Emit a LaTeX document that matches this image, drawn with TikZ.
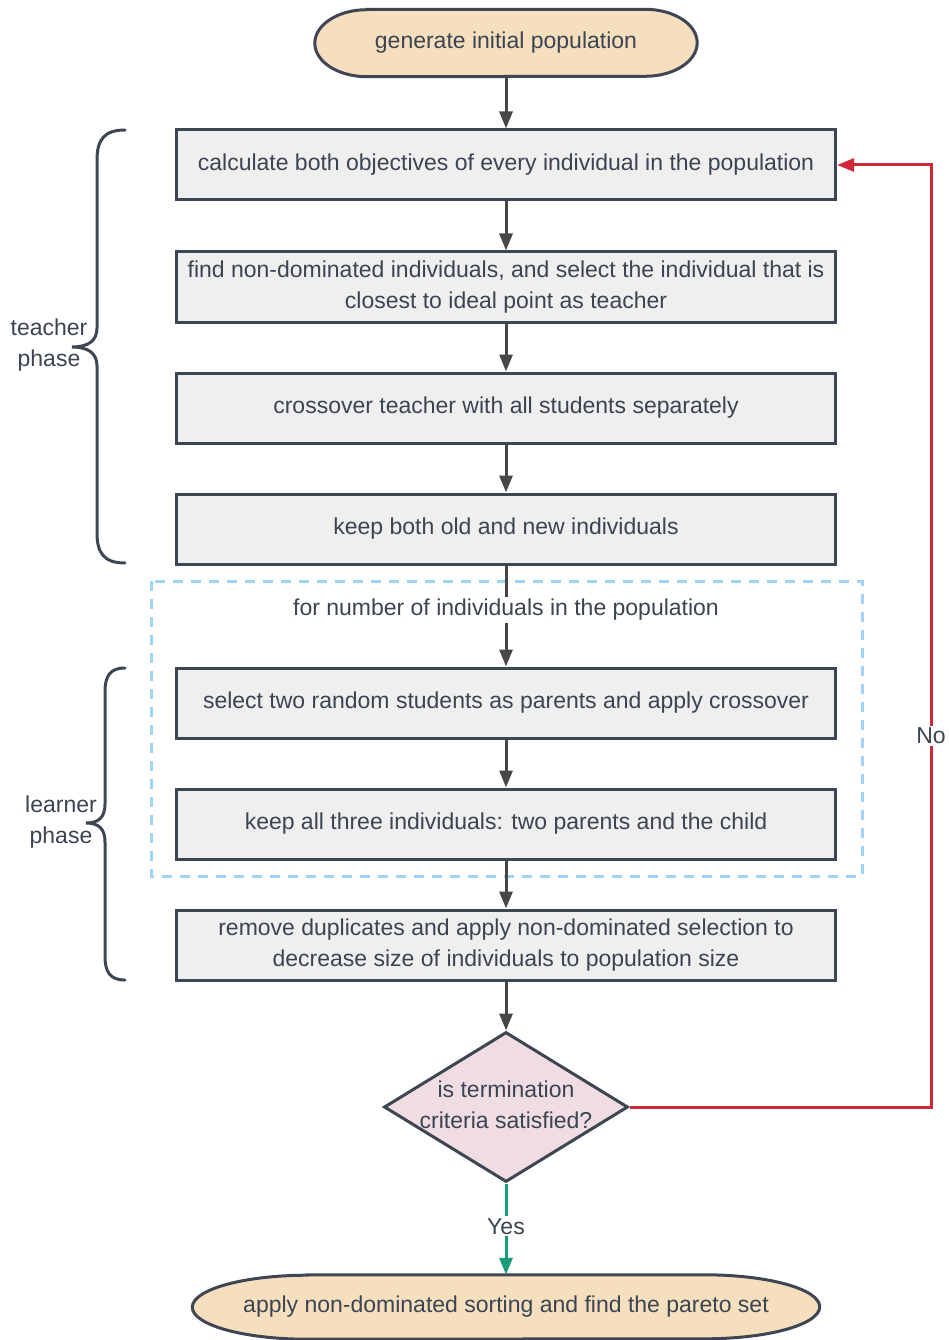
\documentclass[tikz,border=0pt]{standalone}
\usepackage{fontspec}
\setmainfont{Liberation Sans}
\usetikzlibrary{arrows.meta,shapes.geometric,calc,backgrounds}
\definecolor{txt}{HTML}{3B4450}
\definecolor{bord}{HTML}{3D4652}
\definecolor{boxfill}{HTML}{EFEFEF}
\definecolor{peach}{HTML}{F5DFBE}
\definecolor{pinkfill}{HTML}{EFDDE3}
\definecolor{dashblue}{HTML}{A0D4F5}
\definecolor{arrgrey}{HTML}{474747}
\definecolor{noRed}{HTML}{CF2A3A}
\definecolor{yesGreen}{HTML}{1B9A7C}
\tikzset{
  every node/.style={font=\fontsize{23}{31}\selectfont, text=txt},
  stepbox/.style={draw=bord, fill=boxfill, line width=3pt, minimum width=659pt, minimum height=70pt, inner sep=0pt, align=center},
  term/.style={rectangle, inner sep=0pt, align=center},
  termline/.style={draw=bord, fill=peach, line width=3pt},
  decide/.style={draw=bord, fill=pinkfill, line width=3pt, diamond, minimum width=244pt, minimum height=150pt, inner sep=0pt},
  flow/.style={draw=arrgrey, line width=3pt, -{Triangle[length=17pt,width=13pt]}},
  lbl/.style={fill=white, inner sep=2pt},
  bracestyle/.style={draw=bord, line width=3pt, line cap=round},
}
\newcommand{\termoutline}[3]{% node name, x radius, y radius
  \draw[termline] ($(#1.north west)+(#2,0)$) -- ($(#1.north east)+(-#2,0)$)
    arc[start angle=-90,end angle=90,x radius=#2,y radius=#3]
    -- ($(#1.south west)+(#2,0)$)
    arc[start angle=90,end angle=270,x radius=#2,y radius=#3] -- cycle;}
\begin{document}
\begin{tikzpicture}[x=1pt,y=-1pt]
\useasboundingbox (0,0) rectangle (948,1340);
% dashed loop frame
\draw[dashblue, line width=3pt, dash pattern=on 10pt off 8pt] (151,581) rectangle (862,876);

\node[term, minimum width=382pt, minimum height=67pt] (start) at (506,43) {generate initial population};
\node[stepbox] (b1) at (506,165) {calculate both objectives of every individual in the population};
\node[stepbox] (b2) at (506,287) {find non-dominated individuals, and select the individual that is\\closest to ideal point as teacher};
\node[stepbox] (b3) at (506,408) {crossover teacher with all students separately};
\node[stepbox] (b4) at (506,529) {keep both old and new individuals};
\node[stepbox] (b5) at (506,703) {select two random students as parents and apply crossover};
\node[stepbox] (b6) at (506,824) {keep all three individuals: two parents and the child};
\node[stepbox] (b7) at (506,945) {remove duplicates and apply non-dominated selection to\\decrease size of individuals to population size};
\node[decide, label={[align=center, yshift=2pt]center:is termination\\criteria satisfied?}] (dia) at (506,1107) {};
\node[term, minimum width=627pt, minimum height=64pt] (stop) at (506,1307) {apply non-dominated sorting and find the pareto set};

\begin{scope}[on background layer]
\termoutline{start}{52}{33.5}
\termoutline{stop}{115}{32}
\end{scope}

\draw[flow] (start) -- (b1);
\draw[flow] (b1) -- (b2);
\draw[flow] (b2) -- (b3);
\draw[flow] (b3) -- (b4);
\draw[flow] (b4) -- node[lbl, pos=0.44] (loop) {for number of individuals in the population} (b5);
\draw[flow] (b5) -- (b6);
\draw[flow] (b6) -- (b7);
\draw[flow] (b7) -- (dia);
\draw[flow, draw=yesGreen, -{Triangle[length=17pt,width=13pt,fill=yesGreen]}] (dia.south) -- node[lbl, pos=0.47] (yes) {Yes} (stop);

\coordinate (cb) at (931,1107);
\coordinate (ct) at (931,165);
\draw[draw=noRed, line width=3pt, -{Triangle[length=17pt,width=13pt]}] (dia.east) -- (cb) -- node[lbl, pos=0.394] (no) {No} (ct) -- (b1.east);

% braces
\draw[bracestyle] (125,130) .. controls (104,130) and (97,140) .. (97,160) -- (97,328)
  .. controls (97,341) and (88,347) .. (72,347) .. controls (88,347) and (97,353) .. (97,366)
  -- (97,533) .. controls (97,553) and (104,563) .. (125,563);
\draw[bracestyle] (125,668) .. controls (110,668) and (105,676) .. (105,692) -- (105,804)
  .. controls (105,817) and (99,823) .. (86,823) .. controls (99,823) and (105,829) .. (105,842)
  -- (105,956) .. controls (105,972) and (110,980) .. (125,980);
\node[align=center, inner sep=0pt] (teach) at (49,345) {teacher\\phase};
\node[align=center, inner sep=0pt] (learn) at (61,822) {learner\\phase};
\end{tikzpicture}
\end{document}
